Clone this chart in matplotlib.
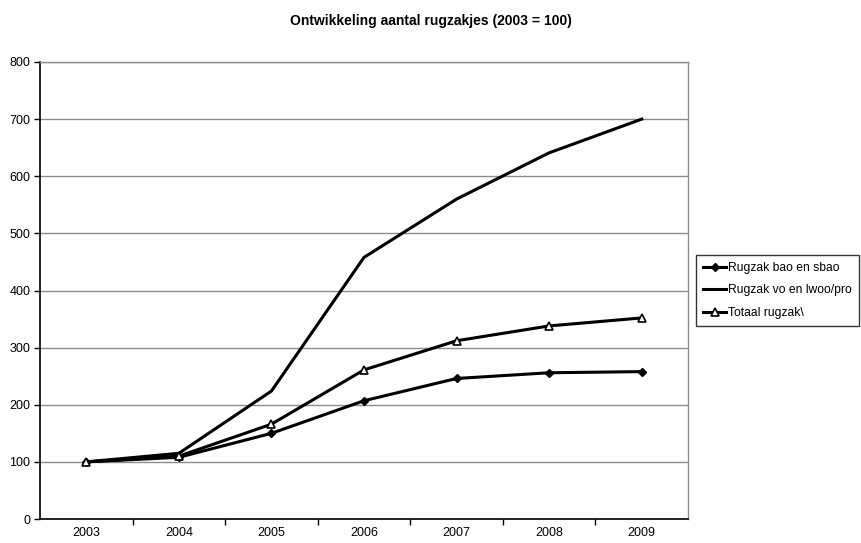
import matplotlib
matplotlib.use("Agg")
import matplotlib.pyplot as plt

plt.rcParams["font.family"] = ["Liberation Sans", "DejaVu Sans"]

years = ["2003", "2004", "2005", "2006", "2007", "2008", "2009"]
bao_sbao = [100, 108, 150, 207, 246, 256, 258]
vo_lwoo = [100, 115, 224, 458, 560, 641, 700]
totaal = [100, 110, 166, 261, 312, 338, 352]
y_ticks = [0, 100, 200, 300, 400, 500, 600, 700, 800]

fig = plt.figure(figsize=(8.61, 5.43), dpi=100)
ax = fig.add_axes([40 / 861, 1 - 519 / 543, 648 / 861, 457 / 543])

x = list(range(len(years)))
ax.plot(x, bao_sbao, color="black", lw=2.2, marker="D", ms=4.5,
        markerfacecolor="black", label="Rugzak bao en sbao", zorder=3)
ax.plot(x, vo_lwoo, color="black", lw=2.2, label="Rugzak vo en lwoo/pro", zorder=3)
ax.plot(x, totaal, color="black", lw=2.2, marker="^", ms=6,
        markerfacecolor="white", markeredgewidth=1.2, label="Totaal rugzak\\", zorder=4)

ax.set_xlim(-0.5, len(years) - 0.5)
ax.set_ylim(0, 800)
ax.set_yticks(y_ticks)
ax.set_xticks(x)
ax.set_xticklabels(years)
ax.tick_params(axis="x", length=0, pad=6, labelsize=9)
ax.set_xticks([i + 0.5 for i in x[:-1]], minor=True)
ax.tick_params(axis="x", which="minor", length=4, width=1, direction="out")
ax.tick_params(axis="y", length=4, width=1, direction="out", labelsize=9, pad=3)

ax.grid(True, axis="y", color="#8c8c8c", lw=1)
ax.set_axisbelow(True)
for side in ["left", "bottom"]:
    ax.spines[side].set_color("black")
    ax.spines[side].set_linewidth(1.2)
for side in ["top", "right"]:
    ax.spines[side].set_color("#8c8c8c")
    ax.spines[side].set_linewidth(1)

fig.suptitle("Ontwikkeling aantal rugzakjes (2003 = 100)", x=0.5, y=0.975,
             fontsize=10, fontweight="bold")

leg = ax.legend(loc="center left", bbox_to_anchor=(1.012, 0.5), fontsize=8.7,
                frameon=True, fancybox=False, edgecolor="black", borderpad=0.6,
                handlelength=1.9, labelspacing=0.85, handletextpad=0.2,
                borderaxespad=0)
leg.get_frame().set_linewidth(1)

fig.savefig("out.png", dpi=100)
